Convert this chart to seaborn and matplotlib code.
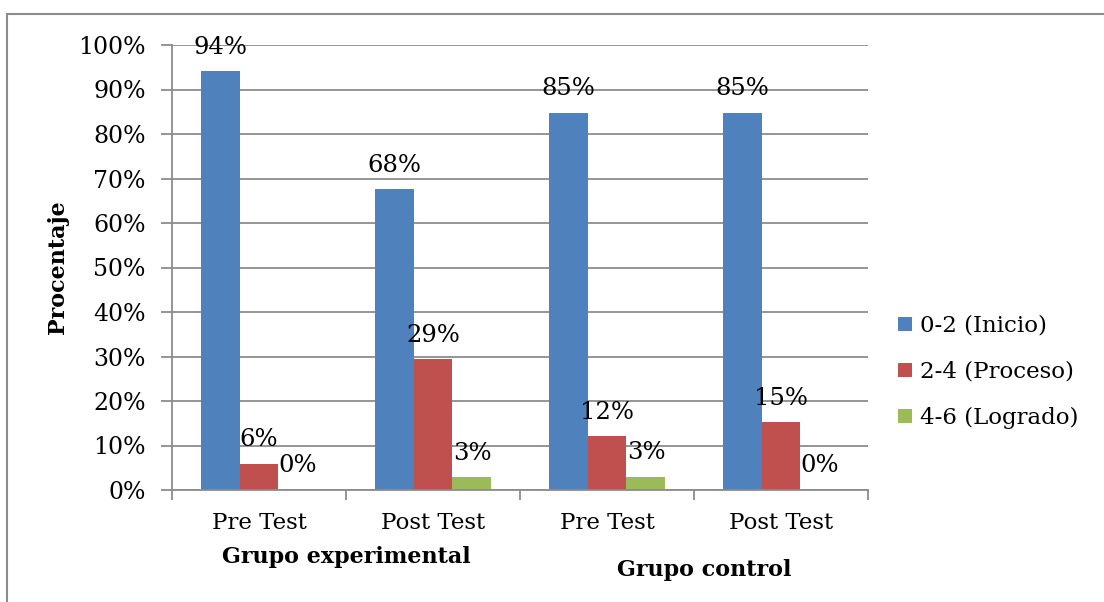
import matplotlib
matplotlib.use("Agg")
import matplotlib.pyplot as plt
from matplotlib.patches import Rectangle
from matplotlib.ticker import FixedLocator, PercentFormatter
import matplotlib.transforms as mtransforms
import pandas as pd
import seaborn as sns

# Survey results: share of students in each score band, per group and test
grupos = ["Grupo experimental", "Grupo experimental", "Grupo control", "Grupo control"]
fases = ["Pre Test", "Post Test", "Pre Test", "Post Test"]
niveles = ["0-2 (Inicio)", "2-4 (Proceso)", "4-6 (Logrado)"]
inicio = [94.1, 67.6, 84.8, 84.8]
proceso = [5.9, 29.4, 12.1, 15.2]
logrado = [0.0, 2.9, 3.0, 0.0]

colores = ["#4F81BD", "#C0504D", "#9BBB59"]
gris = "#8C8C8C"

sns.set_theme(style="white")
plt.rcParams["font.family"] = ["DejaVu Serif"]
plt.rcParams["text.color"] = "black"
plt.rcParams["axes.labelcolor"] = "black"

claves = [f"{g}|{f}" for g, f in zip(grupos, fases)]
filas = []
for nivel, serie in zip(niveles, [inicio, proceso, logrado]):
    for clave, valor in zip(claves, serie):
        filas.append({"clave": clave, "nivel": nivel, "porcentaje": valor})
df = pd.DataFrame(filas)

fig = plt.figure(figsize=(11.04, 6.02), dpi=100)
W, H = 1104, 602
ax = fig.add_axes([172 / W, 1 - 490 / H, 696 / W, 445 / H])

sns.barplot(data=df, x="clave", y="porcentaje", hue="nivel", order=claves,
            hue_order=niveles, palette=colores, width=0.672, saturation=1,
            errorbar=None, ax=ax, legend=True, linewidth=0)

for cont in ax.containers:
    ax.bar_label(cont, labels=[f"{v:.0f}%" for v in cont.datavalues],
                 padding=9, fontsize=17.5, color="black")

ax.set_xlim(-0.5, len(claves) - 0.5)
ax.set_ylim(0, 100)
ax.yaxis.set_major_locator(FixedLocator(range(0, 101, 10)))
ax.yaxis.set_major_formatter(PercentFormatter(decimals=0))
ax.grid(axis="y", color=gris, linewidth=1.3)
ax.set_axisbelow(True)

ax.set_xticks(range(len(claves)))
ax.set_xticklabels(fases)
ax.xaxis.set_minor_locator(FixedLocator([i - 0.5 for i in range(len(claves) + 1)]))
ax.tick_params(axis="x", which="major", length=0, pad=16, labelsize=16.5, labelcolor="black")
ax.tick_params(axis="x", which="minor", length=7, width=1.3, color=gris, direction="out", bottom=True)
ax.tick_params(axis="y", length=8, width=1.3, color=gris, direction="out", left=True,
               labelsize=17, labelcolor="black", pad=11)

for lado in ["top", "right"]:
    ax.spines[lado].set_visible(False)
for lado in ["left", "bottom"]:
    ax.spines[lado].set_color(gris)
    ax.spines[lado].set_linewidth(1.3)

ax.set_xlabel("")
ax.set_ylabel("Procentaje", fontsize=16, fontweight="bold", color="black")
ax.yaxis.set_label_coords((69 - 172) / 696, 0.5)

# Group names under the test labels
trans = mtransforms.blended_transform_factory(ax.transData, fig.transFigure)
ax.text(0.5, 1 - 557 / H, "Grupo experimental", transform=trans, ha="center", va="center",
        fontsize=16, fontweight="bold", color="black")
ax.text(2.56, 1 - 570 / H, "Grupo control", transform=trans, ha="center", va="center",
        fontsize=16, fontweight="bold", color="black")

handles, labels = ax.get_legend_handles_labels()
ax.get_legend().remove()
leg = fig.legend(handles, labels, loc="center left", bbox_to_anchor=(898 / W, 1 - 372 / H),
                 frameon=False, fontsize=16.5, handlelength=0.6, handleheight=0.6,
                 handletextpad=0.35, labelspacing=1.05, borderaxespad=0, borderpad=0)
for t in leg.get_texts():
    t.set_color("black")

# Chart frame
fig.patches.append(Rectangle((7 / W, -0.2), 1.2, 1.2 - 14 / H, transform=fig.transFigure,
                             fill=False, edgecolor=gris, linewidth=1.5, figure=fig))

fig.savefig("out.png", dpi=100, facecolor="white")
